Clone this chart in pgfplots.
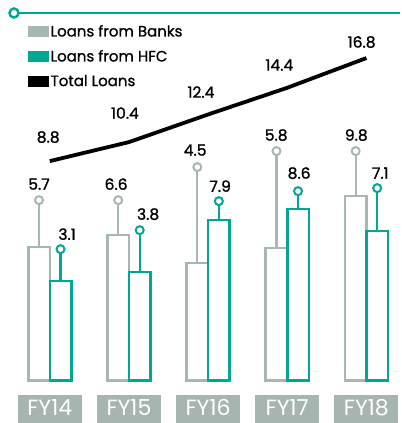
\documentclass[border=0pt]{standalone}
\usepackage{pgfplots}
\pgfplotsset{compat=1.18}
\usepackage{pgfplotstable}
\usepackage{fontspec}
\setmainfont{Poppins}
\newfontfamily\medfont{Poppins}[FakeBold=1.0]
\newfontfamily\numfont{Poppins}[FakeBold=1.2]

\definecolor{bankgray}{HTML}{A9B7B3}
\definecolor{hfcteal}{HTML}{00A893}
\definecolor{boxgray}{HTML}{A7B5B1}

% heights are read in drawing units off the picture (it is not drawn to scale)
\pgfplotstableread{
x  bx     hx    bank hfc bankpin hfcpin total
0 -0.136 0.136 133  99  180     131    219
1  0.864 1.136 145  108 180     150    238
2  1.864 2.136 117  160 213     179    265.6
3  2.864 3.136 132  171 229     189    292.3
4  3.864 4.136 184  149 229     192    322
}\loans

\begin{document}
\begin{tikzpicture}
\begin{axis}[
  scale only axis,
  width=400pt, height=380pt,
  xmin=-0.629, xmax=4.428,
  ymin=0, ymax=380,
  clip=false,
  hide y axis,
  axis x line=bottom,
  x axis line style={draw=none},
  xtick={0,1,2,3,4},
  xticklabels={FY14,FY15,FY16,FY17,FY18},
  major tick length=0pt,
  xticklabel style={fill=boxgray, text=white, minimum width=64pt, minimum height=27.5pt,
    inner sep=0pt, text depth=4pt, font=\fontsize{22}{24}\selectfont, yshift=-15pt},
  legend style={draw=none, fill=none, at={(axis description cs:0.07,0.94)}, anchor=north west,
    font=\medfont\fontsize{15}{18}\selectfont, row sep=8pt, inner sep=0pt,
    /tikz/every even column/.append style={column sep=5pt}},
  legend cell align=left,
]
\addlegendimage{legend image code/.code={\fill[bankgray] (0pt,-5pt) rectangle (20pt,5pt);}}
\addlegendentry{Loans from Banks}
\addlegendimage{legend image code/.code={\fill[hfcteal] (0pt,-5pt) rectangle (20pt,5pt);}}
\addlegendentry{Loans from HFC}
\addlegendimage{legend image code/.code={\fill[black] (0pt,-5pt) rectangle (20pt,5pt);}}
\addlegendentry{Total Loans}

% keep the full frame in the bounding box
\path (axis description cs:0,0) rectangle (axis description cs:1,1);

% top rule
\addplot[forget plot, hfcteal, line width=2.5pt, mark=*, mark indices={1}, mark size=4.5pt,
  mark options={fill=white, line width=2.5pt}] coordinates {(-0.452,367)(4.428,367)};

% pin stems
\addplot[forget plot, ycomb, bankgray, line width=2.2pt] table[x=bx, y=bankpin] {\loans};
\addplot[forget plot, ycomb, hfcteal, line width=2.2pt] table[x=hx, y=hfcpin] {\loans};

% bars
\addplot[forget plot, ybar, bar width=21.5pt, bar shift=-10.75pt, draw=bankgray, fill=white,
  line width=2.5pt] table[x=x, y=bank] {\loans};
\addplot[forget plot, ybar, bar width=21.5pt, bar shift=10.75pt, draw=hfcteal, fill=white,
  line width=2.5pt] table[x=x, y=hfc] {\loans};

% pin heads
\addplot[forget plot, only marks, mark=*, mark size=4pt, bankgray,
  mark options={fill=white, line width=2pt}] table[x=bx, y=bankpin] {\loans};
\addplot[forget plot, only marks, mark=*, mark size=4pt, hfcteal,
  mark options={fill=white, line width=2pt}] table[x=hx, y=hfcpin] {\loans};

% total loans
\addplot[forget plot, black, line width=3.8pt] table[x=x, y=total] {\loans};

% value labels
\begin{scope}[every node/.style={font=\numfont\fontsize{15.5}{18}\selectfont, anchor=center}]
\node at (axis cs:-0.136,196) {5.7};
\node at (axis cs:0.218,146) {3.1};
\node at (axis cs:0.838,196) {6.6};
\node at (axis cs:1.242,166) {3.8};
\node at (axis cs:1.836,230) {4.5};
\node at (axis cs:2.152,194) {7.9};
\node at (axis cs:2.86,245) {5.8};
\node at (axis cs:3.15,207) {8.6};
\node at (axis cs:3.872,245) {9.8};
\node at (axis cs:4.175,207) {7.1};
\node at (axis cs:-0.02,243) {8.8};
\node at (axis cs:0.95,267) {10.4};
\node at (axis cs:1.91,288) {12.4};
\node at (axis cs:2.9,315) {14.4};
\node at (axis cs:3.94,338) {16.8};
\end{scope}
\end{axis}
\end{tikzpicture}
\end{document}
